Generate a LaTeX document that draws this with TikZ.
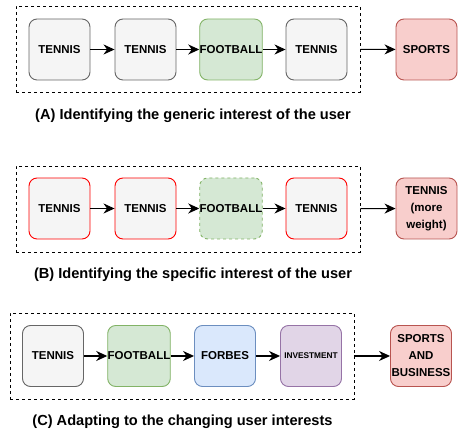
\documentclass[tikz,border=0pt]{standalone}
\usepackage{fontspec}
\setmainfont{Liberation Sans}
\usetikzlibrary{arrows.meta}
\usetikzlibrary{positioning}

\definecolor{grayfill}{HTML}{F5F5F5}
\definecolor{graydraw}{HTML}{666666}
\definecolor{greenfill}{HTML}{D5E8D4}
\definecolor{greendraw}{HTML}{82B366}
\definecolor{redfill}{HTML}{F8CECC}
\definecolor{reddraw}{HTML}{B85450}
\definecolor{bluefill}{HTML}{DAE8FC}
\definecolor{bluedraw}{HTML}{6C8EBF}
\definecolor{purplefill}{HTML}{E1D5E7}
\definecolor{purpledraw}{HTML}{9673A6}
\definecolor{brightred}{HTML}{FF0000}

\tikzset{
	item/.style={draw=graydraw, fill=grayfill, rounded corners=8pt, line width=0.9pt,
		minimum width=61pt, minimum height=61pt, inner sep=0pt, align=center,
		font=\fontsize{11.5}{17}\selectfont\bfseries},
	greenitem/.style={item, draw=greendraw, fill=greenfill},
	reditem/.style={item, draw=reddraw, fill=redfill},
	blueitem/.style={item, draw=bluedraw, fill=bluefill},
	purpleitem/.style={item, draw=purpledraw, fill=purplefill},
	hot/.style={draw=brightred},
	window/.style={draw, dash pattern=on 3pt off 3pt, line width=0.9pt, inner sep=0pt},
	caption/.style={font=\fontsize{14.6}{17}\selectfont\bfseries},
	link/.style={-{Stealth[length=11pt,width=10pt,inset=3.5pt]}, line width=1.1pt}
}

\begin{document}
\begin{tikzpicture}[x=1pt, y=-1pt]
	\useasboundingbox (0,0) rectangle (459,435);
	% (A) generic interest
	\node[window, minimum width=344pt, minimum height=86pt] (wa) at (188,49) {};
	\node[item] (a1) at (59.5,49.5) {TENNIS};
	\node[item] (a2) at (145.5,49.5) {TENNIS};
	\node[greenitem] (a3) at (231,49.5) {FOOTBALL};
	\node[item] (a4) at (316.5,49.5) {TENNIS};
	\node[reditem] (ao) at (426.5,49.5) {SPORTS};
	\draw[link] (a1) -- (a2);
	\draw[link] (a2) -- (a3);
	\draw[link] (a3) -- (a4);
	\draw[link] (wa) -- (ao);
	\node[caption] (ca) at (193,116) {(A) Identifying the generic interest of the user};
	% (B) specific interest
	\node[window, minimum width=344pt, minimum height=86pt] (wb) at (188,209) {};
	\node[item, hot] (b1) at (59.5,208.5) {TENNIS};
	\node[item, hot] (b2) at (145.5,208.5) {TENNIS};
	\node[greenitem, dashed] (b3) at (231,208.5) {FOOTBALL};
	\node[item, hot] (b4) at (316.5,208.5) {TENNIS};
	\node[reditem] (bo) at (426.5,208.5) {TENNIS\\(more\\weight)};
	\draw[link] (b1) -- (b2);
	\draw[link] (b2) -- (b3);
	\draw[link] (b3) -- (b4);
	\draw[link] (wb) -- (bo);
	\node[caption] (cb) at (193,275) {(B) Identifying the specific interest of the user};
	% (C) changing interests
	\node[window, minimum width=344pt, minimum height=86pt] (wc) at (182,356) {};
	\node[item] (c1) at (53,356) {TENNIS};
	\node[greenitem] (c2) at (139,356) {FOOTBALL};
	\node[blueitem] (c3) at (225,356) {FORBES};
	\node[purpleitem, font=\fontsize{8.3}{10}\selectfont\bfseries] (c4) at (311,356) {INVESTMENT};
	\node[reditem] (co) at (421,356) {SPORTS\\AND\\BUSINESS};
	\draw[link] (c1) -- (c2);
	\draw[link] (c2) -- (c3);
	\draw[link] (c3) -- (c4);
	\draw[link] (wc) -- (co);
	\node[caption] (cc) at (182.5,422) {(C) Adapting to the changing user interests};
\end{tikzpicture}
\end{document}
